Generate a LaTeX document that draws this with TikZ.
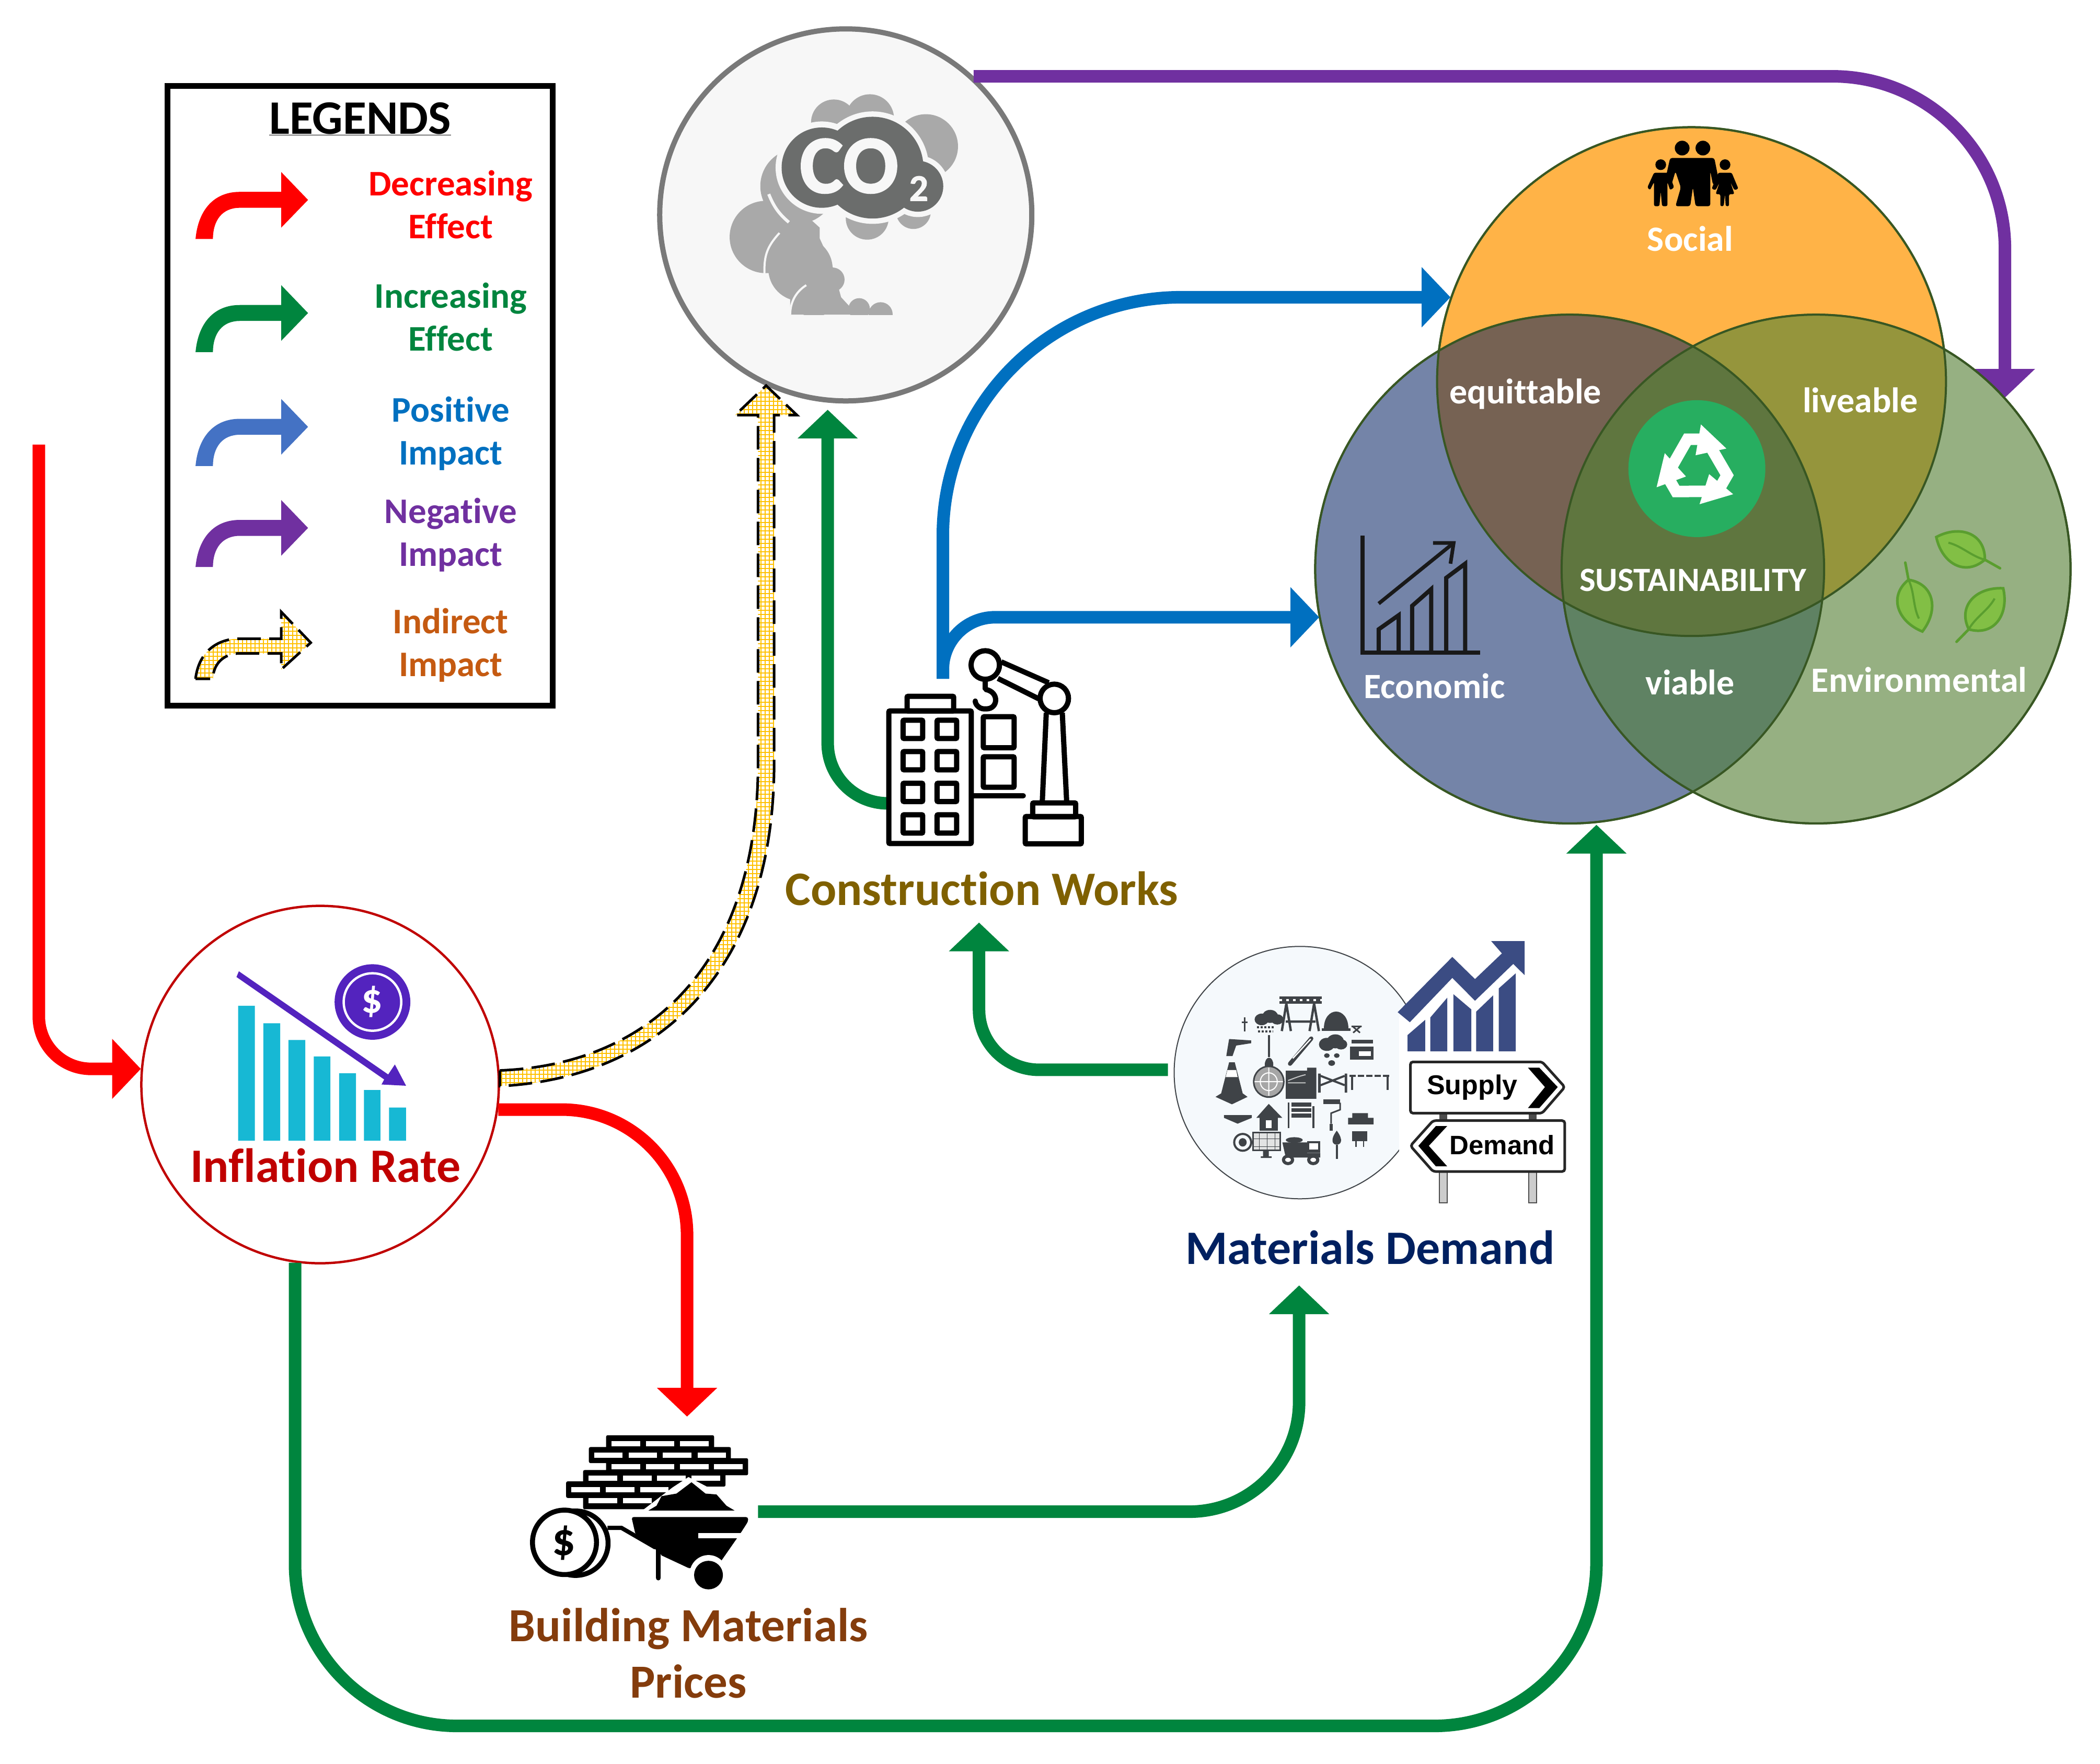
\documentclass[tikz,border=0pt]{standalone}
\usepackage{fontspec}
\setmainfont[Ligatures={NoCommon,NoDiscretionary,TeX}]{Carlito}
\newfontfamily\signfont{Liberation Sans}
\usetikzlibrary{arrows.meta,patterns.meta,calc}
\definecolor{gr}{HTML}{00853E}
\definecolor{bl}{HTML}{0070C0}
\definecolor{pu}{HTML}{7030A0}
\definecolor{lb}{HTML}{4472C4}
\definecolor{ora}{HTML}{C55A11}
\definecolor{yc}{HTML}{FFC000}
\definecolor{dkred}{HTML}{C00000}
\definecolor{vline}{HTML}{385723}
\definecolor{micon}{HTML}{3F4347}
\definecolor{chartb}{HTML}{3B4C83}
\definecolor{leaffill}{HTML}{82BF45}
\definecolor{leafline}{HTML}{5A9E2F}
\newcommand\fsz[1]{\fontsize{#1}{#1}\selectfont}
\tikzset{
 conn/.style={line width=24pt,rounded corners=#1,line cap=butt},
 headed/.style={-{Triangle[width=112pt,length=55pt]}},
 legtxt/.style={font=\fsz{69}\bfseries,anchor=base,inner sep=0pt},
 venntxt/.style={font=\fsz{68}\bfseries,text=white,anchor=base,inner sep=0pt},
 bigtxt/.style={font=\fsz{91}\bfseries,anchor=base,inner sep=0pt},
 vcirc/.style={circle,inner sep=0pt,minimum size=973.75pt,draw=vline,line width=4pt},
 iconbox/.style={inner sep=0pt,draw=none},
 legarrow/.pic={
  \path[pic actions] (0,0) .. controls (2,-22) and (14,-35.2) .. (33,-35.2) -- (64,-35.2) -- (64,-50) -- (84,-29.2) -- (64,-8.5) -- (64,-23.3) -- (33,-23.3) .. controls (20,-23.3) and (13,-14) .. (13,0) -- cycle;},
 leafpic/.pic={
  \draw[line width=5pt,draw=leafline,line cap=round] (0,0) -- (-13,-1);
  \path[fill=leaffill,draw=leafline,line width=5pt] (0,0) .. controls (8,-18) and (28,-16) .. (40,0) .. controls (28,16) and (8,18) .. (0,0) -- cycle;
  \draw[line width=4pt,draw=leafline] (0,0) .. controls (10,-2) and (20,2) .. (30,0);},
 recseg/.pic={
  \draw[line width=22pt,white,line join=miter] (-19,-1) -- (-7,-22) -- (5,-22);
  \fill[white] (3,-33) -- (22,-15) -- (-1,-10) -- cycle;}
}
\begin{document}
\begin{tikzpicture}[x=2.5625pt,y=-2.5625pt]
\useasboundingbox (0,0) rectangle (1568,1317.46);
\fill[white] (0,0) rectangle (1568,1317.46);

% ===== legend
\node[draw=black,line width=11pt,inner sep=0pt,minimum width=737pt,minimum height=1186pt] (legend) at (269,295.5) {};
\node[font=\fsz{92}\bfseries,anchor=base,inner sep=0pt] (legtitle) at (269,100) {\underline{LEGENDS}};
\pic[fill=red] at (146,178.5) {legarrow};
\pic[fill=gr] at (146,263) {legarrow};
\pic[fill=lb] at (146,348) {legarrow};
\pic[fill=pu] at (146,423.5) {legarrow};
\node[legtxt,text=red] (l1a) at (336.5,146) {Decreasing};
\node[legtxt,text=red] (l1b) at (336.5,178) {Effect};
\node[legtxt,text=gr] (l2a) at (336.5,230) {Increasing};
\node[legtxt,text=gr] (l2b) at (336.5,262) {Effect};
\node[legtxt,text=bl] (l3a) at (336.5,315) {Positive};
\node[legtxt,text=bl] (l3b) at (336.5,347) {Impact};
\node[legtxt,text=pu] (l4a) at (336.5,391) {Negative};
\node[legtxt,text=pu] (l4b) at (336.5,423) {Impact};
\node[legtxt,text=ora] (l5a) at (336.5,473) {Indirect};
\node[legtxt,text=ora] (l5b) at (336.5,505) {Impact};
% indirect legend arrow
\begin{scope}[shift={(146,507)}]
 \def\indleg{(0,0) .. controls (2,-18) and (14,-30) .. (33,-30) -- (64,-30) -- (64,-50) -- (86,-27) -- (64,-7) -- (64,-19) -- (33,-19) .. controls (20,-19) and (13,-10) .. (13,0) -- cycle}
 \fill[white] \indleg;
 \fill[pattern={Lines[angle=0,distance=8pt,line width=2.6pt]},pattern color=yc] \indleg;
 \fill[pattern={Lines[angle=90,distance=8pt,line width=2.6pt]},pattern color=yc] \indleg;
 \draw[line width=5pt,dash pattern=on 45pt off 16pt] \indleg;
\end{scope}

% ===== main nodes
\node[circle,draw=gray!95!black,fill=black!3,line width=10pt,inner sep=0pt,minimum size=712pt] (co2) at (631.5,160.5) {};
\node[circle,draw=dkred,fill=white,line width=4.5pt,inner sep=0pt,minimum size=684pt] (infl) at (239,810) {};
\node[iconbox,minimum width=380pt,minimum height=380pt] (constr) at (735,558) {};
\node[iconbox,minimum width=760pt,minimum height=500pt] (mat) at (1023,800) {};
\node[iconbox,minimum width=430pt,minimum height=300pt] (build) at (478,1129) {};
\coordinate (s0) at (29,332);
\coordinate (pstart) at (727,57);
\coordinate (ptip) at (1497,297);
\coordinate (bstart) at (704,507);
\coordinate (btip1) at (1083,222);
\coordinate (btip2) at (985,461);
\coordinate (g1s) at (664,600);
\coordinate (g1t) at (618,306);
\coordinate (g2s) at (872,799);
\coordinate (g2t) at (731,689);
\coordinate (g3s) at (566,1129);
\coordinate (g3t) at (970,960);
\coordinate (g4t) at (1192,616);
\coordinate (r2t) at (513,1058);

% ===== connectors
\draw[conn=330pt,pu,headed] (pstart) -- (pstart -| ptip) -- (ptip);

% venn: opaque regions with exact colours
\node[vcirc,fill={rgb,255:red,255;green,179;blue,71}] (soc) at (1263,285) {};
\node[vcirc,fill={rgb,255:red,116;green,132;blue,168}] (eco) at (1172,425) {};
\node[vcirc,fill={rgb,255:red,150;green,176;blue,130}] (env) at (1356,425) {};
\begin{scope}\clip (1263,285) circle[radius=190];\fill[fill={rgb,255:red,118;green,98;blue,83}] (1172,425) circle[radius=190];\end{scope}
\begin{scope}\clip (1263,285) circle[radius=190];\fill[fill={rgb,255:red,149;green,149;blue,60}] (1356,425) circle[radius=190];\end{scope}
\begin{scope}\clip (1172,425) circle[radius=190];\fill[fill={rgb,255:red,95;green,130;blue,99}] (1356,425) circle[radius=190];\end{scope}
\begin{scope}\clip (1263,285) circle[radius=190];\clip (1172,425) circle[radius=190];\fill[fill={rgb,255:red,95;green,118;blue,63}] (1356,425) circle[radius=190];\end{scope}
\draw[vline,line width=4pt] (1263,285) circle[radius=190] (1172,425) circle[radius=190] (1356,425) circle[radius=190];

\draw[conn=100pt,red,headed] (s0) -- (s0 |- infl.175) -- (infl.175);
\draw[conn=240pt,red,headed] (infl.-8.4) -- (infl.-8.4 -| r2t) -- (r2t);
\draw[conn=310pt,gr,headed] (infl.-98) -- (infl.-98 |- 0,1289) -- (1192,1289) -- (g4t);
\draw[conn=115pt,gr,headed] (g1s) -- (g1s -| g1t) -- (g1t);
\draw[conn=115pt,gr,headed] (g2s) -- (g2s -| g2t) -- (g2t);
\draw[conn=210pt,gr,headed] (g3s) -- (g3s -| g3t) -- (g3t);
\draw[conn=456pt,bl,headed] (bstart) -- (bstart |- btip1) -- (btip1);
\draw[conn=100pt,bl,headed] (bstart) -- (bstart |- btip2) -- (btip2);

% indirect connector
\def\indpath{([yshift=15pt]infl.2) .. controls (490,795) and (566,715) .. (566,570) -- (566,310) -- (549,310) -- (572,288) -- (595,310) -- (578,310) -- (578,570) .. controls (578,722) and (495,805) .. ([yshift=-15pt]infl.2) -- cycle}
\fill[white] \indpath;
\fill[pattern={Lines[angle=0,distance=8pt,line width=2.6pt]},pattern color=yc] \indpath;
\fill[pattern={Lines[angle=90,distance=8pt,line width=2.6pt]},pattern color=yc] \indpath;
\draw[line width=5pt,dash pattern=on 45pt off 16pt] \indpath;

% ===== venn content
\node[venntxt] (tsoc) at (1262,187.5) {Social};
\node[venntxt] (teq) at (1139,301.5) {equittable};
\node[venntxt] (tliv) at (1389,308) {liveable};
\node[venntxt] (teco) at (1071,521.5) {Economic};
\node[venntxt] (tvia) at (1262,519) {viable};
\node[venntxt] (tenv) at (1433,517) {Environmental};
\node[venntxt,font=\fsz{65}\bfseries] (tsus) at (1264,441.5) {SUSTAINABILITY};
\node[circle,fill={rgb,255:red,39;green,174;blue,96},inner sep=0pt,minimum size=262pt] (rec) at (1267,350) {};
\begin{scope}[shift={(1267,350)}]
 \pic at (0,0) {recseg};
 \pic[rotate=120] at (0,0) {recseg};
 \pic[rotate=240] at (0,0) {recseg};
\end{scope}
% family
\begin{scope}[fill=black]
 \fill (1256,110.6) circle[radius=5.5] (1271.5,110.6) circle[radius=5.5];
 \fill (1240,123) circle[radius=4] (1288,123) circle[radius=4];
 \fill[rounded corners=4pt] (1247,118) -- (1280,118) -- (1284,138) -- (1279,138) -- (1277,128) -- (1277,154) -- (1266,154) -- (1264,140) -- (1262,154) -- (1251,154) -- (1255,140) -- (1251,128) -- (1248,138) -- (1243,136) -- cycle;
 \fill[rounded corners=3pt] (1235,129) -- (1246,129) -- (1250,140) -- (1247,142) -- (1245,136) -- (1245,154) -- (1241,154) -- (1240,143) -- (1239,154) -- (1235,154) -- (1235,136) -- (1232,142) -- (1230,140) -- cycle;
 \fill[rounded corners=3pt] (1283,129) -- (1293,129) -- (1298,141) -- (1295,142) -- (1292,136) -- (1295,145) -- (1291,145) -- (1291,154) -- (1288.5,154) -- (1288,145) -- (1287,154) -- (1284.5,154) -- (1284.5,145) -- (1281,145) -- (1284,136) -- (1281,142) -- (1278,141) -- cycle;
\end{scope}
% economic chart
\begin{scope}[line width=8pt,black!90]
 \draw (1017.5,400) -- (1017.5,487.5) -- (1105,487.5);
 \draw (1029.4,487) -- (1029.4,470) -- (1044.3,459.5) -- (1044.3,487);
 \draw (1054.4,487) -- (1054.4,452.5) -- (1068.6,440) -- (1068.6,487);
 \draw (1079.8,487) -- (1079.8,431.6) -- (1094,421) -- (1094,487);
 \draw[line width=7pt] (1029.4,450.8) -- (1085.4,405.5);
 \draw[line width=7pt] (1070,405.5) -- (1085.4,405.5) -- (1083,421);
\end{scope}
% leaves
\path (1482,418) pic[rotate=155] {leafpic};
\path (1425,433) pic[rotate=-75] {leafpic};
\path (1470,470) pic[rotate=50] {leafpic};

% ===== CO2 icon
\definecolor{smk}{HTML}{A9A9A9}
\definecolor{cldk}{HTML}{6B6D6C}
\definecolor{cohalo}{HTML}{F7F7F7}
\begin{scope}
 \clip (500,60) rectangle (740,235);
 \fill[smk] (622.6,91.3) circle[radius=17] (649.5,88.4) circle[radius=18] (691.3,109.3) circle[radius=24]
  (595.7,139) circle[radius=28] (571.8,177) circle[radius=27] (597.7,200.8) circle[radius=24]
  (647.5,149) circle[radius=16] (647.5,163) circle[radius=16] (682,158) circle[radius=13]
  (621.6,208.8) circle[radius=9] (607.7,218.8) circle[radius=18] (641.5,230.7) circle[radius=8] (657.5,234.7) circle[radius=9];
 \fill[smk] (590,150) -- (612,170) -- (612,178) -- (622,200) -- (628,222) -- (640,235) -- (590,235) -- cycle;
 \fill[smk] (575,160) rectangle (605,200);
 \draw[cohalo,line width=6pt] (574,145) .. controls (578,155) and (582,160) .. (589,166);
 \draw[cohalo,line width=4pt] (582,174) .. controls (572,185) and (570,192) .. (571,208);
 \draw[cohalo,line width=4pt] (602,213) .. controls (594,218) and (590,226) .. (590,235);
\end{scope}
\fill[cohalo] (613.6,125.2) circle[radius=34.5] (651.5,125.2) circle[radius=42] (685.3,139.1) circle[radius=23];
\fill[cldk] (613.6,125.2) circle[radius=30] (651.5,125.2) circle[radius=38] (685.3,139.1) circle[radius=19];
\node[font=\fsz{158}\bfseries\addfontfeature{FakeBold=1.5},text=cohalo,anchor=base,inner sep=0pt] (tco) at (634,144) {CO};
\node[font=\fsz{72}\bfseries\addfontfeature{FakeBold=1.5},text=cohalo,anchor=base,inner sep=0pt] (tco2) at (686,150) {2};

% ===== inflation icon
\begin{scope}[shift={(89.76,663.4)},x=.5102pt,y=-.4784pt]
 \fill[fill={rgb,255:red,23;green,184;blue,212}]
  (442,470) rectangle (505,1010) (537,540) rectangle (600,1010) (631,607) rectangle (694,1010)
  (726,673) rectangle (788,1010) (821,740) rectangle (884,1010) (914,807) rectangle (976,1010) (1008,877) rectangle (1072,1010);
 \definecolor{infp}{HTML}{5323BE}
 \fill[infp] (445,332) -- (1005,745) -- (1030,705) -- (1072,790) -- (980,785) -- (990,765) -- (436,355) -- cycle;
 \fill[infp] (946,455) ellipse[x radius=142,y radius=151];
 \draw[white,line width=4.5pt] (946,455) ellipse[x radius=108,y radius=115];
\end{scope}
\node[font=\fsz{80}\bfseries,text=white,inner sep=0pt] (tdol) at (277.9,748) {\$};
\node[bigtxt,font=\fsz{92}\bfseries,text=dkred] (tinf) at (243,883) {Inflation Rate};

% ===== construction icon
\begin{scope}[shift={(624.4,468.3)},x=.3827pt,y=-.3333pt,line width=10pt,rounded corners=2pt]
 \draw (263,482) rectangle (675,1243);
 \draw (354,398) rectangle (587,482);
 \foreach \yy in {535,715,897,1078}{
  \draw (334,\yy) rectangle (432,{\yy+105});
  \draw (504,\yy) rectangle (602,{\yy+105});}
 \draw (735,515) rectangle (889,693);
 \draw (735,745) rectangle (889,920);
 \draw[line cap=round] (688,968) -- (935,968);
 \draw (745,218) ellipse[x radius=71,y radius=82];
 \draw (1090,410) ellipse[x radius=71,y radius=82];
 \draw (825,200) -- (1062,320);
 \draw (808,295) -- (1012,412);
 \draw (1050,492) -- (1030,1005);
 \draw (1130,492) -- (1152,1005);
 \draw (982,1010) rectangle (1197,1090);
 \draw (945,1088) rectangle (1225,1245);
 \draw[line cap=round] (745,310) -- (745,358) .. controls (815,375) and (810,470) .. (745,470) .. controls (715,470) and (695,445) .. (695,425);
\end{scope}
\node[bigtxt,font=\fsz{92}\bfseries,text={rgb,255:red,127;green,96;blue,0}] (tcon) at (733,676) {Construction Works};

% ===== materials icon
\begin{scope}[shift={(858.5,686.8)},x=.542pt,y=-.4464pt]
 \fill[fill={rgb,255:red,245;green,249;blue,252},draw=micon,line width=2pt] (530,656) ellipse[x radius=444,y radius=541];
 \fill[white] (880,560) rectangle (1500,1230);
 \fill[white] (880,560) -- (880,420) -- (1100,200) -- (1100,560) -- cycle;
 \begin{scope}[micon]
  % barrier
  \fill (458,330) rectangle (608,360);
  \draw[line width=4pt,white,dash pattern=on 5pt off 8pt] (458,345) -- (608,345);
  \draw[line width=4.5pt] (482,360) -- (466,478) (482,360) -- (498,478) (580,360) -- (564,478) (580,360) -- (597,478) (480,437) -- (585,437);
  % rain cloud
  \fill (395,428) circle[radius=25] (425,415) circle[radius=28] (450,428) circle[radius=22];
  \draw[line width=4pt,dash pattern=on 4pt off 3pt] (378,462) -- (440,462) (382,480) -- (436,480);
  % hook
  \draw[line width=3pt] (335,420) -- (335,480) (325,440) -- (345,440);
  % helmet
  \fill (614,468) .. controls (614,370) and (702,370) .. (702,468) -- cycle;
  \fill (608,465) rectangle (708,478);
  \draw[line width=3pt] (712,458) -- (748,458) (718,460) -- (742,485) (742,460) -- (718,485);
  % drill
  \fill (280,512) -- (358,518) -- (358,530) -- (305,540) -- (292,585) -- (270,585) -- cycle;
  % shovel
  \draw[line width=4pt] (421,495) -- (421,590);
  \fill (421,622) ellipse[x radius=15,y radius=30];
  % chainsaw
  \draw[line width=8pt,line cap=round] (495,618) -- (570,510);
  \draw[line width=2.5pt,white] (505,595) -- (568,512);
  % snow cloud
  \fill (625,535) circle[radius=28] (655,522) circle[radius=30] (675,535) circle[radius=22];
  \fill (625,583) circle[radius=10] (660,583) circle[radius=10] (642,615) circle[radius=12];
  % shop
  \fill (712,515) rectangle (788,530);
  \fill (706,545) rectangle (790,600);
  \fill[white] (738,565) rectangle (780,585);
  % cone
  \fill (280,612) -- (300,612) -- (328,745) -- (345,760) -- (290,792) -- (232,760) -- (252,745) -- cycle;
  \fill[white] (274,645) -- (305,645) -- (310,675) -- (268,675) -- cycle;
  % wood
  \fill[gray!70,draw=micon,line width=3pt] (420,695) ellipse[x radius=53,y radius=66];
  \draw[line width=2pt,white] (420,695) ellipse[x radius=30,y radius=38] (370,695) -- (470,695) (420,635) -- (420,755);
  % mixer block
  \fill (480,648) rectangle (555,768) (555,635) rectangle (588,768);
  \draw[line width=2pt,white!70!micon] (488,690) .. controls (510,680) and (530,670) .. (550,665) (488,700) -- (550,700);
  % bridge
  \fill (594,660) rectangle (603,742) (688,660) rectangle (697,742);
  \draw[line width=4pt] (603,670) -- (688,710) (603,710) -- (688,670);
  % fence
  \draw[line width=3.5pt,dash pattern=on 12pt off 4pt] (705,670) -- (850,670);
  \draw[line width=4pt] (715,670) -- (715,730) (840,670) -- (840,730);
  % saw
  \fill (262,838) -- (360,838) -- (360,850) -- (310,875) -- (262,850) -- cycle;
  % house
  \fill (420,790) -- (468,850) -- (452,850) -- (452,905) -- (388,905) -- (388,850) -- (376,850) -- cycle;
  \fill[white] (410,860) rectangle (430,895);
  % mixer
  \fill (500,785) rectangle (570,850);
  \draw[line width=2.5pt,white] (500,805) -- (570,805) (500,828) -- (570,828);
  \draw[line width=3.5pt] (490,785) -- (490,895) (578,800) -- (578,895);
  % roller
  \fill (612,770) rectangle (672,790);
  \draw[line width=3pt] (672,785) -- (672,815) -- (640,830) -- (640,875);
  \fill (634,875) rectangle (646,905);
  % bricks
  \fill (700,850) rectangle (790,878) (715,830) rectangle (770,850);
  % sign
  \fill (715,908) rectangle (768,950);
  \draw[line width=2.5pt] (728,950) -- (728,975) (755,950) -- (755,975);
  % trowel
  \fill (660,905) .. controls (685,945) and (675,965) .. (660,965) .. controls (645,965) and (635,945) .. (660,905) -- cycle;
  \draw[line width=4pt] (660,965) -- (660,1025);
  % recycle
  \draw[line width=4pt] (328,955) ellipse[x radius=30,y radius=36];
  \fill (328,955) ellipse[x radius=14,y radius=18];
  % solar panel
  \draw[line width=3pt,fill=white!85!micon] (364,912) rectangle (460,990);
  \draw[line width=1pt,step=15pt] (364,912) grid (460,990);
  \fill (400,990) rectangle (420,1015) (392,1015) rectangle (430,1022);
  % truck
  \fill (468,955) -- (555,955) -- (555,1000) -- (602,1000) -- (602,1020) -- (480,1020) -- cycle;
  \fill (555,950) rectangle (602,1000);
  \fill[white] (562,960) rectangle (595,985);
  \fill (510,945) ellipse[x radius=30,y radius=12];
  \draw[line width=6pt,fill=white] (488,1030) circle[radius=16] (577,1030) circle[radius=16];
 \end{scope}
 % rising chart
 \begin{scope}[chartb]
  \fill (910,565) -- (910,495) -- (972,430) -- (972,565) -- cycle;
  \fill (990,565) -- (990,420) -- (1050,335) -- (1050,565) -- cycle;
  \fill (1072,565) -- (1072,320) -- (1135,385) -- (1135,565) -- cycle;
  \fill (1152,565) -- (1152,395) -- (1212,325) -- (1212,565) -- cycle;
  \fill (1232,565) -- (1232,295) -- (1292,230) -- (1292,565) -- cycle;
  \fill (875,397) -- (1068,160) -- (1148,255) -- (1243,145) -- (1205,92) -- (1323,92) -- (1323,238) -- (1283,190) -- (1148,348) -- (1068,250) -- (918,440) -- cycle;
 \end{scope}
 % signs
 \foreach \xx in {1022,1337}{
  \fill[gray!40,draw=black!70,line width=2pt] (\xx,1075) rectangle ({\xx+28},1215);
  \fill[gray!60!black] (\xx,825) rectangle ({\xx+28},865);}
 \path[fill=white,draw=black!85,line width=5pt,rounded corners=5pt] (920,610) -- (1385,610) -- (1465,718) -- (1385,830) -- (920,830) -- cycle;
 \fill[black] (1335,635) -- (1375,635) -- (1440,718) -- (1375,808) -- (1335,808) -- (1395,718) -- cycle;
 \path[fill=white,draw=black!85,line width=5pt,rounded corners=5pt] (920,970) -- (1000,862) -- (1465,862) -- (1465,1080) -- (1000,1080) -- cycle;
 \fill[black] (1050,885) -- (1010,885) -- (948,970) -- (1010,1058) -- (1050,1058) -- (985,970) -- cycle;
 \node[font=\signfont\bfseries\fsz{52},anchor=base west,inner sep=0pt] (tsup) at (978,750) {Supply};
 \node[font=\signfont\bfseries\fsz{51},anchor=base west,inner sep=0pt] (tdem) at (1058,1008) {Demand};
\end{scope}
\node[bigtxt,font=\fsz{92}\bfseries,text={rgb,255:red,0;green,32;blue,96}] (tmat) at (1023,944) {Materials Demand};

% ===== building materials icon
\begin{scope}[shift={(370.7,1053.7)},x=.3827pt,y=-.3333pt]
 \fill[rounded corners=3pt] (548,140) rectangle (1088,215) (462,208) rectangle (1172,300) (548,272) rectangle (1258,370) (433,340) rectangle (1145,435) (348,405) rectangle (1000,500) (433,470) rectangle (900,565);
 \foreach \xa/\xb/\ya/\yb in {575/718/175/205,747/888/175/205,917/1060/175/205,
  490/630/240/270,660/803/240/270,832/975/240/270,1005/1146/240/270,
  575/718/305/337,747/888/305/337,917/1060/305/337,1088/1232/305/337,
  460/603/372/403,632/775/372/403,803/945/372/403,975/1118/372/403,
  375/518/438/468,547/690/438/468,718/860/438/468,
  460/603/502/532,632/775/502/532}
  \fill[white] (\xa,\ya) rectangle (\xb,\yb);
 \fill[white] (720,580) -- (880,440) -- (960,380) -- (1060,440) -- (1200,560) -- (1280,600) -- (680,600) -- cycle;
 \fill (760,572) -- (800,545) -- (825,490) -- (900,475) -- (975,410) -- (1045,475) -- (1100,480) -- (1150,545) -- (1190,572) -- cycle;
 \fill[rounded corners=4pt] (675,610) -- (1258,610) -- (1258,635) -- (1130,870) -- (965,905) -- (800,800) -- (695,710) -- cycle;
 \fill[white] (1010,702) rectangle (1225,732);
 \fill[white] (1225,695) -- (1268,620) -- (1268,760) -- (1130,900) -- (1125,860) -- cycle;
 \draw[line width=8pt] (555,672) -- (625,672) -- (795,785);
 \fill (800,780) -- (965,905) -- (825,830) -- cycle;
 \draw[line width=9pt,line cap=round] (810,800) -- (810,960);
 \fill[white] (1060,940) ellipse[x radius=95,y radius=112];
 \fill (1060,943) ellipse[x radius=72,y radius=82];
 \draw[line width=9.5pt,fill=white] (395,760) ellipse[x radius=163,y radius=185];
 \draw[line width=9.5pt,fill=white] (340,755) ellipse[x radius=160,y radius=185];
 \node[font=\fsz{88}\bfseries,inner sep=0pt] (tbd) at (338,758) {\$};
\end{scope}
\node[bigtxt] (tb1) at (514,1226) {\textcolor[HTML]{843C0C}{Building Materials}};
\node[bigtxt] (tb2) at (514,1268) {\textcolor[HTML]{843C0C}{Prices}};
\end{tikzpicture}
\end{document}
